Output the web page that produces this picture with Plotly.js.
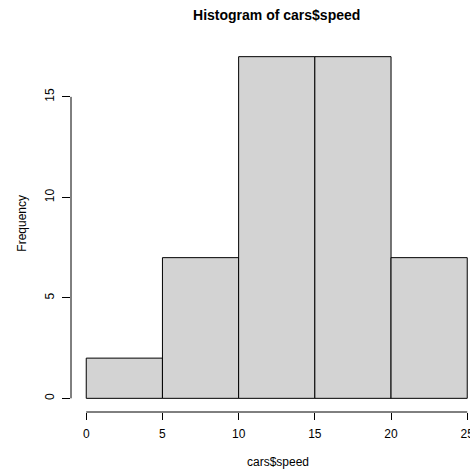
<!DOCTYPE html>
<html>
<head>
<meta charset="utf-8">
<script src="https://cdn.plot.ly/plotly-3.0.1.min.js"></script>
<style>html,body{margin:0;padding:0;background:#fff;}#chart{width:470px;height:469px;}</style>
</head>
<body>
<div id="chart"></div>
<script>
// Histogram of cars$speed (R hist, right-closed bins)
const breaks = [0, 5, 10, 15, 20, 25];
const counts = [2, 7, 17, 17, 7];
const xTicks = [0, 5, 10, 15, 20, 25];
const yTicks = [0, 5, 10, 15];
const titleText = "Histogram of cars$speed";
const xLabel = "cars$speed";
const yLabel = "Frequency";

const mids = counts.map((c, i) => (breaks[i] + breaks[i + 1]) / 2);
const widths = counts.map((c, i) => breaks[i + 1] - breaks[i]);

const font = "Liberation Sans, Arial, Helvetica, sans-serif";

const trace = {
  type: "bar",
  x: mids,
  y: counts,
  width: widths,
  marker: { color: "#D3D3D3", line: { color: "#000000", width: 1 } },
  hoverinfo: "x+y"
};

const layout = {
  width: 470,
  height: 469,
  margin: { l: 71, r: 0, t: 43, b: 57, pad: 0 },
  paper_bgcolor: "#ffffff",
  plot_bgcolor: "#ffffff",
  showlegend: false,
  font: { family: font, size: 12, color: "#000000" },
  title: {
    text: "<b>" + titleText + "</b>",
    font: { family: font, size: 14, color: "#000000" },
    xref: "container", x: 276.7 / 470, xanchor: "center",
    yref: "container", y: 1 - 15 / 469, yanchor: "middle"
  },
  xaxis: {
    range: [-1, -1 + 399 / 15.24],
    tickvals: xTicks,
    ticktext: xTicks.map(String),
    ticks: "outside", ticklen: 7, tickwidth: 1, tickcolor: "#000000",
    ticklabelstandoff: 4,
    showline: false, showgrid: false, zeroline: false,
    tickfont: { family: font, size: 12, color: "#000000" },
    ticklabeloverflow: "allow",
    fixedrange: true
  },
  yaxis: {
    range: [-0.68, 17.68],
    tickvals: yTicks,
    ticktext: yTicks.map(String),
    tickangle: -90,
    ticks: "outside", ticklen: 8, tickwidth: 1, tickcolor: "#000000",
    ticklabelstandoff: 3,
    showline: false, showgrid: false, zeroline: false,
    tickfont: { family: font, size: 12, color: "#000000" },
    fixedrange: true
  },
  shapes: [
    { type: "line", xref: "x", yref: "paper", x0: xTicks[0], x1: xTicks[xTicks.length - 1], y0: 0, y1: 0,
      line: { color: "#000000", width: 1 } },
    { type: "line", xref: "paper", yref: "y", x0: 0, x1: 0, y0: yTicks[0], y1: yTicks[yTicks.length - 1],
      line: { color: "#000000", width: 1 } }
  ],
  annotations: [
    { text: xLabel, xref: "paper", yref: "paper", x: (278 - 71) / 399, y: -(462 - 412) / 369,
      xanchor: "center", yanchor: "middle", showarrow: false,
      font: { family: font, size: 12, color: "#000000" } },
    { text: yLabel, xref: "paper", yref: "paper", x: -(71 - 21.7) / 399, y: (412 - 223) / 369,
      xanchor: "center", yanchor: "middle", showarrow: false, textangle: -90,
      font: { family: font, size: 12, color: "#000000" } }
  ]
};

Plotly.newPlot("chart", [trace], layout, { displayModeBar: false, staticPlot: true });
</script>
</body>
</html>
